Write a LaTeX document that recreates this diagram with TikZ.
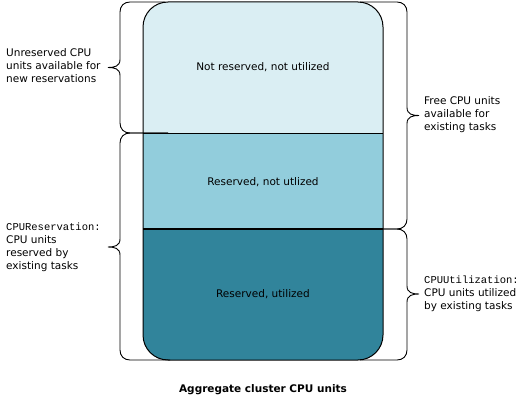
\documentclass[tikz,border=0pt]{standalone}
\usepackage{fontspec}
\setmainfont{DejaVu Sans}
\setmonofont{Liberation Mono}
\definecolor{bandtop}{HTML}{DAEEF3}
\definecolor{bandmid}{HTML}{92CDDC}
\definecolor{bandbot}{HTML}{31849B}
\tikzset{
  bracepath/.style={draw=black, line width=0.9pt},
  lbl/.style={inner sep=0pt, align=left, anchor=west, font=\fontsize{10.5}{13}\selectfont},
  bandtext/.style={inner sep=0pt, font=\fontsize{10.5}{13}\selectfont},
}
\newcommand{\lbrc}[6]{%
  \draw[bracepath] (#5,#2) -- ({#1+10},#2) .. controls ({#1+4},#2) and (#1,{#2+4}) .. (#1,{#2+10})
    -- (#1,{#4-8}) .. controls (#1,{#4-1}) and ({#1-6},#4) .. ({#1-12},#4)
    .. controls ({#1-6},#4) and (#1,{#4+1}) .. (#1,{#4+8})
    -- (#1,{#3-10}) .. controls (#1,{#3-4}) and ({#1+4},#3) .. ({#1+10},#3) -- (#6,#3);}
\newcommand{\rbrc}[6]{%
  \draw[bracepath] (#5,#2) -- ({#1-10},#2) .. controls ({#1-4},#2) and (#1,{#2+4}) .. (#1,{#2+10})
    -- (#1,{#4-8}) .. controls (#1,{#4-1}) and ({#1+6},#4) .. ({#1+12},#4)
    .. controls ({#1+6},#4) and (#1,{#4+1}) .. (#1,{#4+8})
    -- (#1,{#3-10}) .. controls (#1,{#3-4}) and ({#1-4},#3) .. ({#1-10},#3) -- (#6,#3);}
\begin{document}
\begin{tikzpicture}[x=1pt,y=-1pt]
\fill[white] (0,0) rectangle (528,404);
\useasboundingbox (0,0) rectangle (528,404);
% bands
\begin{scope}
  \clip[rounded corners=25pt] (143,2) rectangle (383,360);
  \fill[bandtop] (143,2) rectangle (383,133);
  \fill[bandmid] (143,133) rectangle (383,229);
  \fill[bandbot] (143,229) rectangle (383,360);
\end{scope}
\draw[line width=1pt] (143,133) -- (383,133);
\draw[line width=1.4pt] (143,229) -- (383,229);
\draw[line width=1pt, rounded corners=25pt] (143,2) rectangle (383,360);
% braces
\lbrc{120}{2}{133}{67.5}{165}{168}
\lbrc{120}{133}{360}{247}{168}{170}
\rbrc{407}{2}{229}{115.5}{360}{345}
\rbrc{407}{229}{360}{294}{345}{360}
% band texts
\node[bandtext] (t1) at (263,67) {Not reserved, not utilized};
\node[bandtext] (t2) at (263,182) {Reserved, not utlized};
\node[bandtext] (t3) at (263,294) {Reserved, utilized};
% side labels
\node[lbl] (l1) at (6,66) {Unreserved CPU\\units available for\\new reservations};
\node[lbl] (l2) at (6,247) {\texttt{CPUReservation:}\\CPU units\\reserved by\\existing tasks};
\node[lbl] (r1) at (424,115) {Free CPU units\\available for\\existing tasks};
\node[lbl] (r2) at (424,294) {\texttt{CPUUtilization:}\\CPU units utilized\\by existing tasks};
% caption
\node[inner sep=0pt, font=\fontsize{10.5}{13}\selectfont\bfseries] (cap) at (263,390) {Aggregate cluster CPU units};
\end{tikzpicture}
\end{document}
